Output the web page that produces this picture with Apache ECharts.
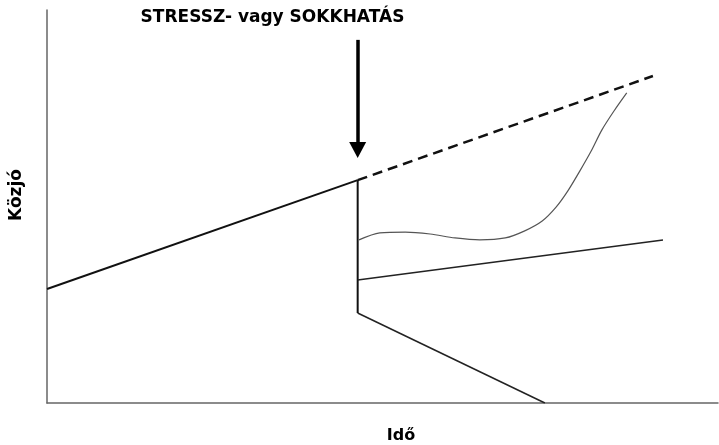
<!DOCTYPE html>
<html><head><meta charset="utf-8">
<script src="https://cdn.jsdelivr.net/npm/echarts@6/dist/echarts.min.js"></script>
<style>html,body{margin:0;padding:0;background:#fff}#c{width:719px;height:445px}</style>
</head><body><div id="c"></div>
<script>
// Data (arbitrary units, axes 0..100)
const shockTime = 46.3;
const preShockX = [0, 46.3];
const preShockY = [29.0, 56.7];
const baselineX = [46.3, 90.3];
const baselineY = [56.7, 83.2];
const dropX = [46.3, 46.3];
const dropY = [56.7, 22.9];
const collapseX = [46.3, 74.2];
const collapseY = [22.9, 0];
const partialX = [46.3, 91.8];
const partialY = [31.3, 41.5];
const recoveryX = [46.5, 49.6, 53.4, 57.1, 60.8, 64.5, 68.3, 71.2, 73.8, 75.9, 77.6, 79.4, 81.1, 82.7, 84.5, 86.4];
const recoveryY = [41.5, 43.3, 43.5, 43.0, 42.0, 41.5, 42.0, 43.8, 46.3, 49.9, 53.9, 59.0, 64.1, 69.5, 74.3, 78.9];
const arrowY = [92.4, 64.4];
const titleText = 'STRESSZ- vagy SOKKHATÁS';
const xName = 'Idő';
const yName = 'Közjó';

const zip = (xs, ys) => xs.map((x, i) => [x, ys[i]]);
const FONT = 'DejaVu Sans, Verdana, sans-serif';

const chart = echarts.init(document.getElementById('c'), null, {renderer: 'canvas'});
const base = {type: 'line', showSymbol: false, symbol: 'none', silent: true, animation: false};
chart.setOption({
  animation: false,
  backgroundColor: '#fff',
  title: {
    text: titleText, left: 272.5, top: 9, textAlign: 'center', padding: 0,
    textStyle: {fontFamily: FONT, fontWeight: 'bold', fontSize: 17, color: '#000'}
  },
  grid: {left: 47, right: 1, top: 10, bottom: 42, containLabel: false},
  xAxis: {
    type: 'value', min: 0, max: 100,
    axisLine: {show: true, onZero: false, lineStyle: {color: '#666', width: 1.5}},
    axisTick: {show: false}, axisLabel: {show: false}, splitLine: {show: false}
  },
  yAxis: {
    type: 'value', min: 0, max: 100,
    axisLine: {show: true, onZero: false, lineStyle: {color: '#666', width: 1.5}},
    axisTick: {show: false}, axisLabel: {show: false}, splitLine: {show: false}
  },
  graphic: [
    {type: 'text', x: 401, y: 436, silent: true,
     style: {text: xName, font: 'bold 16px ' + FONT, fill: '#000', align: 'center', verticalAlign: 'middle', textAlign: 'center', textVerticalAlign: 'middle'}},
    {type: 'text', x: 16.5, y: 195, rotation: Math.PI / 2, silent: true,
     style: {text: yName, font: 'bold 17px ' + FONT, fill: '#000', align: 'center', verticalAlign: 'middle', textAlign: 'center', textVerticalAlign: 'middle'}}
  ],
  series: [
    Object.assign({}, base, {name: 'elotte', data: zip(preShockX, preShockY), lineStyle: {color: '#111', width: 2},
      markLine: {silent: true, animation: false, symbol: ['none', 'triangle'], symbolSize: [17, 16],
        label: {show: false}, lineStyle: {color: '#000', width: 3.5, type: 'solid'},
        data: [[{coord: [shockTime, arrowY[0]]}, {coord: [shockTime, arrowY[1]]}]]}}),
    Object.assign({}, base, {name: 'alap', data: zip(baselineX, baselineY), lineStyle: {color: '#111', width: 2.5, type: [10, 6]}}),
    Object.assign({}, base, {name: 'sokk', data: zip(dropX, dropY), lineStyle: {color: '#111', width: 2}}),
    Object.assign({}, base, {name: 'osszeomlas', data: zip(collapseX, collapseY), lineStyle: {color: '#222', width: 1.5}}),
    Object.assign({}, base, {name: 'reszleges', data: zip(partialX, partialY), lineStyle: {color: '#222', width: 1.5}}),
    Object.assign({}, base, {name: 'helyreallas', data: zip(recoveryX, recoveryY), smooth: 0.3, lineStyle: {color: '#555', width: 1.2}})
  ]
});
</script></body></html>
